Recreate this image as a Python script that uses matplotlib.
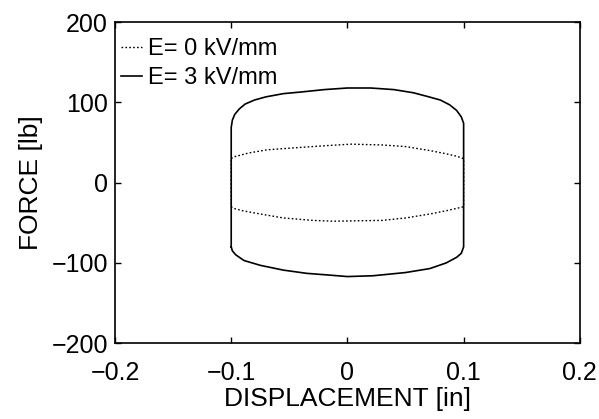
import matplotlib
matplotlib.use("Agg")
import matplotlib.pyplot as plt

plt.rcParams['font.family'] = ['Liberation Sans', 'DejaVu Sans']

# E = 3 kV/mm loop (solid): upper branch left->right, lower branch right->left
e3_top_x = [-0.1, -0.1, -0.099, -0.097, -0.093, -0.088, -0.08, -0.07, -0.055, -0.04, -0.02, 0.0,
            0.02, 0.04, 0.057, 0.07, 0.08, 0.088, 0.094, 0.098, 0.1, 0.1]
e3_top_y = [-80, 69, 78, 85, 92, 98, 103, 107, 111, 113, 116, 118,
            118, 116, 112, 107, 103, 97, 90, 82, 74, -80]
e3_bot_x = [0.1, 0.098, 0.094, 0.085, 0.071, 0.05, 0.022, 0.0, -0.017, -0.035, -0.055,
            -0.075, -0.089, -0.096, -0.099, -0.1]
e3_bot_y = [-80, -88, -93, -100, -107, -112, -116, -117, -115, -113, -109,
            -103, -97, -90, -85, -80]

# E = 0 kV/mm loop (dotted)
e0_top_x = [-0.1, -0.098, -0.085, -0.069, -0.04, -0.02, 0.003, 0.03, 0.05, 0.071, 0.085, 0.094, 0.1]
e0_top_y = [30, 32, 37, 41, 44, 46, 48, 47, 45, 40, 36, 33, 30]
e0_bot_x = [0.1, 0.097, 0.085, 0.071, 0.05, 0.03, -0.012, -0.03, -0.055, -0.075, -0.09, -0.098, -0.1]
e0_bot_y = [-30, -31, -35, -39, -44, -47, -48, -47, -44, -39, -35, -32, -30]

x_ticks = [-0.2, -0.1, 0, 0.1, 0.2]
x_tick_labels = ['\u22120.2', '\u22120.1', '0', '0.1', '0.2']
y_ticks = [-200, -100, 0, 100, 200]
y_tick_labels = ['\u2212200', '\u2212100', '0', '100', '200']

fig = plt.figure(figsize=(5.99, 4.19), dpi=100)
ax = fig.add_axes([0.192, 0.181, 0.776, 0.766])

e0x = e0_top_x + e0_bot_x + [e0_top_x[0]]
e0y = e0_top_y + e0_bot_y + [e0_top_y[0]]
e3x = e3_top_x + e3_bot_x
e3y = e3_top_y + e3_bot_y

ax.plot(e0x, e0y, color='black', linestyle=(0, (1.2, 1.6)), linewidth=1.0, label='E= 0 kV/mm')
ax.plot(e3x, e3y, color='black', linestyle='-', linewidth=1.2, label='E= 3 kV/mm')

ax.set_xlim(-0.2, 0.2)
ax.set_ylim(-200, 200)
ax.set_xticks(x_ticks)
ax.set_xticklabels(x_tick_labels)
ax.set_yticks(y_ticks)
ax.set_yticklabels(y_tick_labels)
ax.tick_params(direction='in', top=True, right=True, length=4, width=1, labelsize=18)
ax.tick_params(axis='x', pad=13)
ax.tick_params(axis='y', pad=5)
for s in ax.spines.values():
    s.set_linewidth(1.2)

ax.set_xlabel('DISPLACEMENT [in]', fontsize=19, labelpad=1)
ax.set_ylabel('FORCE [lb]', fontsize=19, labelpad=6)

leg = ax.legend(loc='upper left', bbox_to_anchor=(0.012, 0.95), frameon=False, fontsize=17,
                handlelength=0.9, handletextpad=0.25, labelspacing=0.3,
                borderaxespad=0.0, borderpad=0.0)

fig.savefig('out.png', dpi=100)
